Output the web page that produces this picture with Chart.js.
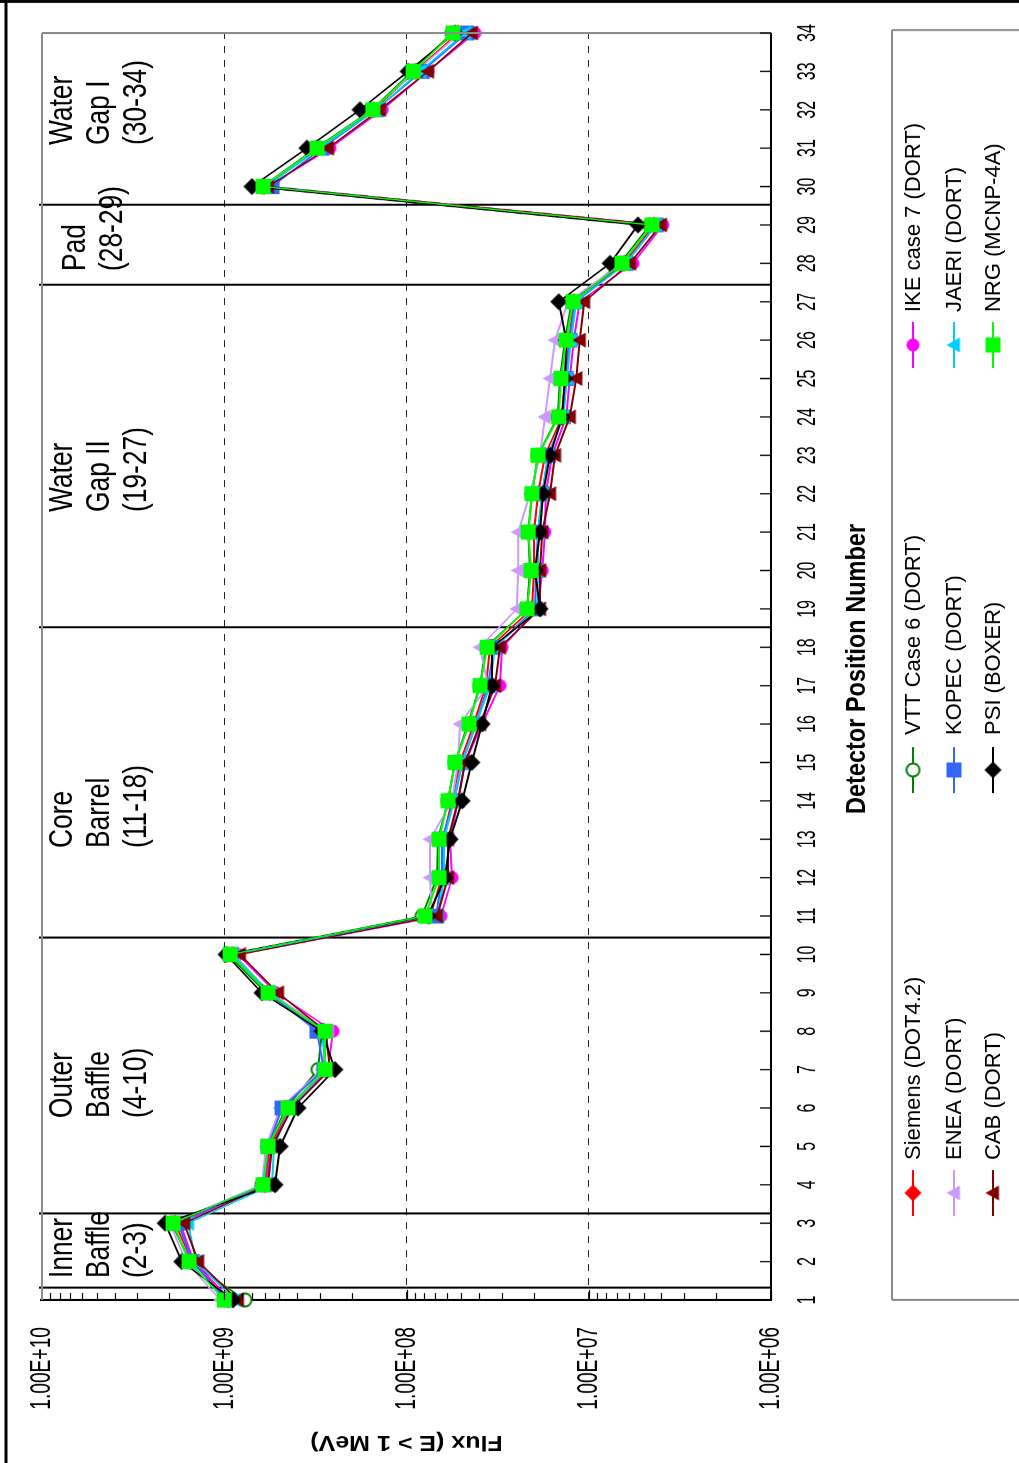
<!DOCTYPE html>
<html>
<head>
<meta charset="utf-8">
<title>Fast neutron flux by detector position</title>
<script src="https://cdn.jsdelivr.net/npm/chart.js@4.4.1/dist/chart.umd.min.js"></script>
<style>
  html, body { margin: 0; padding: 0; background: #fff; }
  #page { position: relative; width: 1019px; height: 1463px; overflow: hidden; background: #fff; }
  #flux { position: absolute; left: 0; top: 0; transform-origin: 0 0; }
</style>
</head>
<body>
<div id="page"><canvas id="flux"></canvas></div>
<script>
// ---- data: flux (E > 1 MeV) at each detector position ----
const positions = [1,2,3,4,5,6,7,8,9,10,11,12,13,14,15,16,17,18,19,20,21,22,23,24,25,26,27,28,29,30,31,32,33,34];
const fluxTicks = [1e6, 1e7, 1e8, 1e9, 1e10];

const siemens = [9.53e8,1.50e9,1.86e9,5.97e8,5.61e8,4.47e8,2.80e8,2.84e8,5.61e8,9.06e8,7.43e7,6.39e7,6.31e7,5.62e7,5.08e7,4.27e7,3.66e7,3.48e7,2.05e7,2.00e7,2.00e7,1.90e7,1.74e7,1.40e7,1.35e7,1.28e7,1.21e7,6.41e6,4.38e6,6.05e8,3.06e8,1.51e8,8.98e7,5.21e7];
const vtt     = [7.70e8,1.54e9,1.94e9,6.21e8,5.75e8,4.58e8,3.06e8,2.91e8,5.90e8,9.53e8,8.22e7,6.80e7,6.72e7,5.92e7,5.42e7,4.60e7,3.95e7,3.66e7,2.18e7,2.10e7,2.15e7,2.05e7,1.90e7,1.48e7,1.44e7,1.35e7,1.24e7,6.74e6,4.61e6,6.21e8,3.14e8,1.55e8,9.33e7,5.62e7];
const ike     = [9.18e8,1.47e9,1.75e9,5.90e8,5.47e8,4.36e8,2.70e8,2.53e8,5.20e8,8.41e8,6.47e7,5.62e7,5.77e7,5.21e7,4.77e7,3.85e7,3.07e7,2.99e7,1.90e7,1.80e7,1.74e7,1.72e7,1.59e7,1.33e7,1.27e7,1.21e7,1.12e7,5.72e6,3.92e6,5.75e8,2.63e8,1.36e8,7.62e7,4.21e7];
const enea    = [1.05e9,1.62e9,1.99e9,6.21e8,5.90e8,4.94e8,2.91e8,2.70e8,5.61e8,8.84e8,7.24e7,7.43e7,7.43e7,5.62e7,5.21e7,5.08e7,3.57e7,3.95e7,2.48e7,2.44e7,2.44e7,2.10e7,1.85e7,1.74e7,1.63e7,1.53e7,1.30e7,6.57e6,4.50e6,6.21e8,3.06e8,1.55e8,8.87e7,5.08e7];
const kopec   = [9.78e8,1.50e9,1.79e9,6.05e8,5.75e8,4.82e8,2.84e8,3.10e8,5.75e8,9.18e8,6.89e7,6.39e7,6.39e7,5.49e7,4.95e7,4.16e7,3.57e7,3.31e7,1.97e7,1.95e7,1.90e7,1.80e7,1.67e7,1.38e7,1.33e7,1.27e7,1.19e7,6.25e6,4.27e6,5.47e8,2.91e8,1.47e8,8.22e7,4.66e7];
const jaeri   = [8.73e8,1.43e9,1.58e9,5.47e8,5.33e8,4.36e8,2.77e8,2.91e8,5.61e8,9.06e8,6.72e7,6.22e7,6.22e7,5.49e7,4.95e7,4.16e7,3.48e7,3.27e7,1.92e7,1.90e7,1.90e7,1.80e7,1.67e7,1.38e7,1.32e7,1.25e7,1.17e7,6.25e6,4.27e6,5.90e8,2.99e8,1.47e8,8.43e7,4.77e7];
const cab     = [8.41e8,1.39e9,1.66e9,5.75e8,5.47e8,4.25e8,2.63e8,2.77e8,5.07e8,8.20e8,6.80e7,5.92e7,5.92e7,5.21e7,4.77e7,3.95e7,3.27e7,3.07e7,1.85e7,1.85e7,1.80e7,1.63e7,1.53e7,1.27e7,1.17e7,1.12e7,1.06e7,5.94e6,4.02e6,5.75e8,2.70e8,1.40e8,7.62e7,4.38e7];
const psi     = [8.95e8,1.71e9,2.11e9,5.27e8,4.94e8,3.94e8,2.47e8,2.91e8,6.21e8,9.78e8,7.62e7,6.15e7,5.77e7,4.95e7,4.38e7,3.85e7,3.40e7,3.40e7,1.85e7,1.97e7,1.85e7,1.78e7,1.63e7,1.40e7,1.35e7,1.33e7,1.46e7,7.64e6,5.37e6,7.05e8,3.52e8,1.80e8,9.80e7,5.42e7];
const nrg     = [1.00e9,1.56e9,1.91e9,6.13e8,5.75e8,4.47e8,2.80e8,2.80e8,5.75e8,9.29e8,7.91e7,6.63e7,6.63e7,5.92e7,5.42e7,4.54e7,3.95e7,3.61e7,2.18e7,2.07e7,2.15e7,2.05e7,1.90e7,1.46e7,1.42e7,1.33e7,1.22e7,6.57e6,4.50e6,6.13e8,3.10e8,1.53e8,9.20e7,5.56e7];

// region boundaries (in detector-position units) and their captions
const boundaries = [1.32, 3.25, 10.44, 18.53, 27.45, 29.52];
const regionCaptions = [
  ['Inner', 'Baffle', '(2-3)'],
  ['Outer', 'Baffle', '(4-10)'],
  ['Core', 'Barrel', '(11-18)'],
  ['Water', 'Gap II', '(19-27)'],
  ['Pad', '(28-29)'],
  ['Water', 'Gap I', '(30-34)']
];

// ---- sheet geometry: the chart sheet is drawn landscape, then turned a quarter turn ----
const SHEET_W = 1463, SHEET_H = 1019;
const CANVAS_W = 2286;                 // drawn wider, squeezed back to SHEET_W
const SX = SHEET_W / CANVAS_W;
const cx = X => X / SX;                // sheet x -> canvas x
const FONT = '"Liberation Sans", Arial, Helvetica, sans-serif';

const PLOT = { left: 163, right: 1430, top: 42, bottom: 771 };
const AXIS_BOX_BOTTOM = 880;

const series = [
  { label: 'Siemens (DOT4.2)',  data: siemens, color: '#FF0000', shape: 'diamond',  fill: '#FF0000' },
  { label: 'VTT Case 6 (DORT)', data: vtt,     color: '#008000', shape: 'circle',   fill: '#FFFFFF' },
  { label: 'IKE case 7 (DORT)', data: ike,     color: '#FF00FF', shape: 'circle',   fill: '#FF00FF' },
  { label: 'ENEA (DORT)',       data: enea,    color: '#CC99FF', shape: 'triangle', fill: '#CC99FF' },
  { label: 'KOPEC (DORT)',      data: kopec,   color: '#3366FF', shape: 'square',   fill: '#3366FF' },
  { label: 'JAERI (DORT)',      data: jaeri,   color: '#00CCFF', shape: 'triangle', fill: '#00CCFF' },
  { label: 'CAB (DORT)',        data: cab,     color: '#800000', shape: 'triangle', fill: '#800000' },
  { label: 'PSI (BOXER)',       data: psi,     color: '#000000', shape: 'diamond',  fill: '#000000' },
  { label: 'NRG (MCNP-4A)',     data: nrg,     color: '#00FF00', shape: 'square',   fill: '#00FF00' }
];

const MARKER_SIZE = { square: 15, diamond: 17, triangle: 15, circle: 13 };

// marker sprite, pre-stretched so it looks right after the sheet is squeezed
function markerSprite(shape, fill, stroke) {
  const size = MARKER_SIZE[shape];
  const h = size + 6;
  const w = Math.ceil(h / SX);
  const c = document.createElement('canvas');
  c.width = w; c.height = h;
  const g = c.getContext('2d');
  g.translate(w / 2, h / 2);
  g.scale(1 / SX, 1);
  const r = size / 2;
  g.beginPath();
  if (shape === 'square') g.rect(-r, -r, size, size);
  else if (shape === 'diamond') { g.moveTo(0, -r); g.lineTo(r, 0); g.lineTo(0, r); g.lineTo(-r, 0); g.closePath(); }
  else if (shape === 'triangle') { g.moveTo(0, -r); g.lineTo(r, r * 0.8); g.lineTo(-r, r * 0.8); g.closePath(); }
  else g.arc(0, 0, r, 0, Math.PI * 2);
  g.fillStyle = fill;
  g.fill();
  if (fill === '#FFFFFF') { g.lineWidth = 2; g.strokeStyle = stroke; g.stroke(); }
  return c;
}

const datasets = series.map((s, i) => ({
  label: s.label,
  data: positions.map((p, j) => ({ x: p, y: s.data[j] })),
  borderColor: s.color,
  backgroundColor: s.fill,
  borderWidth: 2,
  pointStyle: markerSprite(s.shape, s.fill, s.color),
  pointRadius: 8,
  pointHoverRadius: 8,
  tension: 0,
  fill: false,
  clip: false,
  order: series.length - 1 - i
}));

function sciLabel(v) {
  const e = Math.round(Math.log10(v));
  return '1.00E+' + String(e).padStart(2, '0');
}

// text squeezed along the sheet's x direction by factor k (as seen on the page)
function squeezedText(ctx, text, X, Y, k, align, baseline) {
  ctx.save();
  ctx.translate(cx(X), Y);
  ctx.scale(k / SX, 1);
  ctx.textAlign = align;
  ctx.textBaseline = baseline;
  ctx.fillText(text, 0, 0);
  ctx.restore();
}

const captionStart = [185, 345, 615, 951, 1192, 1318];
const captionBase = [[72, 109, 146], [72, 109, 146], [72, 109, 146], [72, 109, 146], [85, 122], [72, 109, 146]];

const legendRows = [913, 954, 993];
const legendSymbolX = [270, 693, 1118];
const legendTextX = [303, 728, 1151];

const decor = {
  id: 'decor',
  beforeDatasetsDraw(chart) {
    const { ctx, scales: { x } } = chart;
    ctx.save();
    ctx.fillStyle = '#000';
    ctx.font = `34px ${FONT}`;
    regionCaptions.forEach((lines, i) => {
      lines.forEach((t, j) => squeezedText(ctx, t, captionStart[i], captionBase[i][j], 0.775, 'left', 'alphabetic'));
    });
    ctx.strokeStyle = '#000';
    ctx.lineWidth = 2 / SX;
    boundaries.forEach(b => {
      const px = Math.round(x.getPixelForValue(b));
      ctx.beginPath();
      ctx.moveTo(px, 39);
      ctx.lineTo(px, PLOT.bottom);
      ctx.stroke();
    });
    ctx.restore();
  },
  afterDraw(chart) {
    const { ctx, chartArea: a, scales: { x, y } } = chart;
    ctx.save();
    // plot frame, top and right
    ctx.strokeStyle = '#8c8c8c';
    ctx.lineWidth = 2;
    ctx.beginPath(); ctx.moveTo(a.left, a.top); ctx.lineTo(a.right, a.top); ctx.stroke();
    ctx.lineWidth = 2 / SX;
    ctx.beginPath(); ctx.moveTo(a.right, a.top); ctx.lineTo(a.right, a.bottom); ctx.stroke();

    // inward tick marks on the position axis
    ctx.strokeStyle = '#000';
    ctx.lineWidth = 1.3 / SX;
    x.ticks.forEach(t => {
      const px = x.getPixelForValue(t.value);
      ctx.beginPath(); ctx.moveTo(px, a.bottom); ctx.lineTo(px, a.bottom - 11); ctx.stroke();
    });
    // inward log ticks on the flux axis
    ctx.lineWidth = 1.2;
    for (let e = 6; e < 10; e++) {
      for (let m = 1; m <= 9; m++) {
        const py = Math.round(y.getPixelForValue(m * Math.pow(10, e))) + 0.5;
        const len = m === 1 ? 10 : 7;
        ctx.beginPath(); ctx.moveTo(a.left, py); ctx.lineTo(a.left + cx(len), py); ctx.stroke();
      }
    }

    // axis titles
    ctx.fillStyle = '#000';
    ctx.font = `bold 28px ${FONT}`;
    squeezedText(ctx, 'Detector Position Number', 794, 857, 0.84, 'center', 'middle');
    ctx.save();
    ctx.font = `bold 25px ${FONT}`;
    ctx.translate(cx(21), (a.top + a.bottom) / 2);
    ctx.scale(0.85 / SX, 1);
    ctx.rotate(-Math.PI / 2);
    ctx.textAlign = 'center';
    ctx.textBaseline = 'middle';
    ctx.fillText('Flux (E > 1 MeV)', 0, 0);
    ctx.restore();

    // legend
    ctx.strokeStyle = '#8c8c8c';
    ctx.lineWidth = 2;
    ctx.beginPath(); ctx.moveTo(cx(163), 892); ctx.lineTo(cx(1433), 892); ctx.stroke();
    ctx.lineWidth = 2 / SX;
    ctx.beginPath(); ctx.moveTo(cx(163), 892); ctx.lineTo(cx(163), SHEET_H + 5); ctx.stroke();
    ctx.beginPath(); ctx.moveTo(cx(1433), 892); ctx.lineTo(cx(1433), SHEET_H + 5); ctx.stroke();

    ctx.font = `22px ${FONT}`;
    chart.data.datasets.forEach((ds, i) => {
      const col = i % 3, row = Math.floor(i / 3);
      const yy = legendRows[row];
      const sx = legendSymbolX[col];
      ctx.strokeStyle = ds.borderColor;
      ctx.lineWidth = 2;
      ctx.beginPath(); ctx.moveTo(cx(sx - 23), yy); ctx.lineTo(cx(sx + 23), yy); ctx.stroke();
      const img = ds.pointStyle;
      ctx.drawImage(img, cx(sx) - img.width / 2, yy - img.height / 2);
      ctx.fillStyle = '#000';
      squeezedText(ctx, ds.label, legendTextX[col], yy + 1, 1.0, 'left', 'middle');
    });

    // outer border of the sheet
    ctx.strokeStyle = '#000';
    ctx.lineWidth = 3;
    ctx.beginPath(); ctx.moveTo(0, 6); ctx.lineTo(CANVAS_W, 6); ctx.stroke();
    ctx.lineWidth = 3 / SX;
    ctx.beginPath(); ctx.moveTo(cx(1461.5), 0); ctx.lineTo(cx(1461.5), SHEET_H); ctx.stroke();
    ctx.restore();
  }
};

const canvas = document.getElementById('flux');
canvas.width = CANVAS_W;
canvas.height = SHEET_H;
canvas.style.width = CANVAS_W + 'px';
canvas.style.height = SHEET_H + 'px';
canvas.style.transform = `translate(0px, ${SHEET_W}px) rotate(-90deg) scale(${SX}, 1)`;

new Chart(canvas.getContext('2d'), {
  type: 'line',
  data: { datasets },
  options: {
    responsive: false,
    animation: false,
    devicePixelRatio: 1,
    events: [],
    layout: {
      padding: { left: 0, top: PLOT.top, right: CANVAS_W - cx(PLOT.right), bottom: SHEET_H - AXIS_BOX_BOTTOM }
    },
    plugins: { legend: { display: false }, tooltip: { enabled: false } },
    scales: {
      x: {
        type: 'linear', position: 'bottom', min: 1, max: 34,
        afterFit: sc => { sc.height = AXIS_BOX_BOTTOM - PLOT.bottom; sc.paddingLeft = 0; sc.paddingRight = 0; },
        afterBuildTicks: sc => { sc.ticks = positions.map(v => ({ value: v })); },
        ticks: { color: '#000', font: { family: FONT, size: 25 }, padding: 22, maxRotation: 0, autoSkip: false },
        grid: { display: false, drawTicks: false },
        border: { display: true, color: '#000', width: 2 }
      },
      y: {
        type: 'logarithmic', position: 'left', min: 1e6, max: 1e10,
        afterFit: sc => { sc.width = cx(PLOT.left); sc.paddingTop = 0; sc.paddingBottom = 0; },
        afterBuildTicks: sc => { sc.ticks = fluxTicks.map(v => ({ value: v })); },
        ticks: { color: '#000', font: { family: FONT, size: 30 }, padding: cx(27), callback: v => sciLabel(v) },
        grid: {
          drawTicks: false, lineWidth: 1,
          color: c => (c.tick && (c.tick.value === 1e6 || c.tick.value === 1e10)) ? 'rgba(0,0,0,0)' : '#222'
        },
        border: { display: true, color: '#000', width: 2 / SX, dash: [cx(7), cx(7)] }
      }
    }
  },
  plugins: [decor]
});
</script>
</body>
</html>
